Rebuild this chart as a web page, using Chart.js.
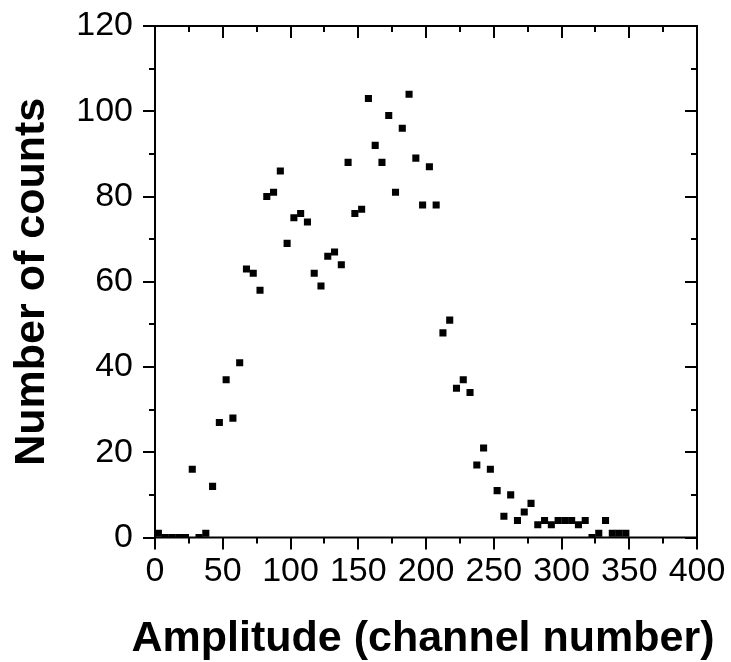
<!DOCTYPE html>
<html>
<head>
<meta charset="utf-8">
<script src="https://cdn.jsdelivr.net/npm/chart.js@4.4.0/dist/chart.umd.min.js"></script>
<style>
  html, body { margin: 0; padding: 0; background: #fff; }
</style>
</head>
<body>
<canvas id="myChart" width="731" height="662"></canvas>
<script>
// channel centres (bins of 5 channels)
const channels = [
  2.5, 7.5, 12.5, 17.5, 22.5, 27.5, 32.5, 37.5, 42.5, 47.5,
  52.5, 57.5, 62.5, 67.5, 72.5, 77.5, 82.5, 87.5, 92.5, 97.5,
  102.5, 107.5, 112.5, 117.5, 122.5, 127.5, 132.5, 137.5, 142.5, 147.5,
  152.5, 157.5, 162.5, 167.5, 172.5, 177.5, 182.5, 187.5, 192.5, 197.5,
  202.5, 207.5, 212.5, 217.5, 222.5, 227.5, 232.5, 237.5, 242.5, 247.5,
  252.5, 257.5, 262.5, 267.5, 272.5, 277.5, 282.5, 287.5, 292.5, 297.5,
  302.5, 307.5, 312.5, 317.5, 322.5, 327.5, 332.5, 337.5, 342.5, 347.5
];
const counts = [
  1, 0, 0, 0, 0, 16, 0, 1, 12, 27,
  37, 28, 41, 63, 62, 58, 80, 81, 86, 69,
  75, 76, 74, 62, 59, 66, 67, 64, 88, 76,
  77, 103, 92, 88, 99, 81, 96, 104, 89, 78,
  87, 78, 48, 51, 35, 37, 34, 17, 21, 16,
  11, 5, 10, 4, 6, 8, 3, 4, 3, 4,
  4, 4, 3, 4, 0, 1, 4, 1, 1, 1
];
const xMajor = [0, 50, 100, 150, 200, 250, 300, 350, 400];
const xMinor = [25, 75, 125, 175, 225, 275, 325, 375];
const yMajor = [0, 20, 40, 60, 80, 100, 120];
const yMinor = [10, 30, 50, 70, 90, 110];
const xTitle = "Amplitude (channel number)";
const yTitle = "Number of counts";

const fontFamily = "'Liberation Sans', Arial, sans-serif";
const tickFont = { family: fontFamily, size: 34 };
const titleFont = { family: fontFamily, size: 43, weight: "bold" };

// frame with ticks on all four sides (outward left/bottom, inward top/right)
const frameTicks = {
  id: "frameTicks",
  afterDatasetsDraw(chart) {
    const { ctx, chartArea: a, scales } = chart;
    const xs = scales.x, ys = scales.y;
    ctx.save();
    ctx.strokeStyle = "#000";
    ctx.lineWidth = 2;
    ctx.strokeRect(a.left, a.top, a.right - a.left, a.bottom - a.top);
    ctx.beginPath();
    const major = 12, minor = 6;
    xMajor.concat(xMinor).forEach(function (v) {
      const px = Math.round(xs.getPixelForValue(v));
      const len = xMajor.includes(v) ? major : minor;
      ctx.moveTo(px, a.bottom); ctx.lineTo(px, a.bottom + len);
      ctx.moveTo(px, a.top); ctx.lineTo(px, a.top + len);
    });
    yMajor.concat(yMinor).forEach(function (v) {
      const py = Math.round(ys.getPixelForValue(v));
      const len = yMajor.includes(v) ? major : minor;
      ctx.moveTo(a.left, py); ctx.lineTo(a.left - len, py);
      ctx.moveTo(a.right, py); ctx.lineTo(a.right - len, py);
    });
    ctx.stroke();

    // x title runs wider than the plot area, so it is drawn here instead of as a scale title
    ctx.font = "bold " + titleFont.size + "px " + fontFamily;
    ctx.fillStyle = "#000";
    ctx.textAlign = "center";
    ctx.textBaseline = "alphabetic";
    ctx.fillText(xTitle, 423, 651);
    ctx.restore();
  }
};

const ctx = document.getElementById("myChart").getContext("2d");
const myChart = new Chart(ctx, {
  type: "scatter",
  data: {
    datasets: [
      {
        label: "counts",
        data: channels.map(function (c, i) { return { x: c, y: counts[i] }; }),
        pointStyle: "rect",
        pointRadius: 5,
        pointBorderWidth: 0,
        backgroundColor: "#000",
        borderColor: "#000",
      },
    ],
  },
  plugins: [frameTicks],
  options: {
    responsive: false,
    animation: false,
    devicePixelRatio: 1,
    layout: { padding: { top: 26, right: 34, left: 0, bottom: 0 } },
    plugins: { legend: { display: false }, tooltip: { enabled: false } },
    scales: {
      x: {
        type: "linear",
        min: 0,
        max: 400,
        grid: { display: false },
        border: { display: false },
        ticks: { stepSize: 50, color: "#000", font: tickFont, padding: 6, maxRotation: 0, autoSkip: false },
        title: { display: false },
        afterFit: function (s) { s.height = 124.5; s.paddingLeft = 0; s.paddingRight = 0; },
      },
      y: {
        min: 0,
        max: 120,
        grid: { display: false },
        border: { display: false },
        ticks: { stepSize: 20, color: "#000", font: tickFont, padding: 14 },
        title: { display: true, text: yTitle, color: "#000", font: titleFont, padding: { top: 6, bottom: 0 } },
        afterFit: function (s) { s.width = 155; s.paddingTop = 0; s.paddingBottom = 0; },
      },
    },
  },
});
</script>
</body>
</html>
